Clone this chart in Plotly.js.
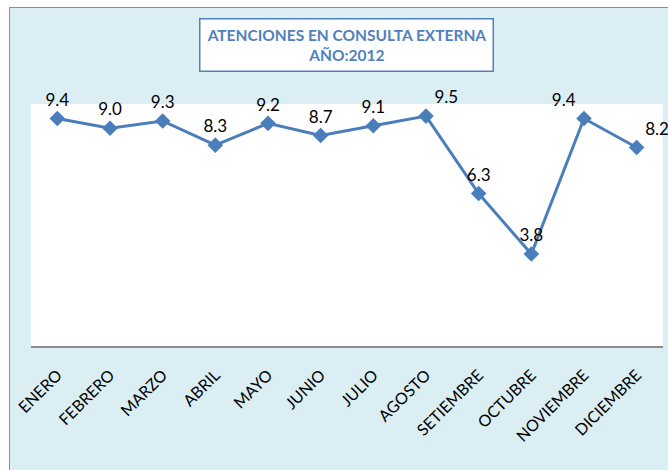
<!DOCTYPE html>
<html>
<head>
<meta charset="utf-8">
<script src="https://cdn.plot.ly/plotly-3.0.1.min.js"></script>
<style>
  html, body { margin: 0; padding: 0; background: #ffffff; width: 668px; height: 470px; overflow: hidden; }
  #frame { position: absolute; left: 9px; top: 7px; width: 659px; height: 463px;
           border-left: 1px solid #8c8c8c; border-top: 1px solid #8c8c8c; }
  #chart { width: 659px; height: 463px; }
</style>
</head>
<body>
<div id="frame"><div id="chart"></div></div>
<script>
const months = ["ENERO","FEBRERO","MARZO","ABRIL","MAYO","JUNIO","JULIO","AGOSTO","SETIEMBRE","OCTUBRE","NOVIEMBRE","DICIEMBRE"];
const values = [9.4, 9.0, 9.3, 8.3, 9.2, 8.7, 9.1, 9.5, 6.3, 3.8, 9.4, 8.2];
const titleLines = ["ATENCIONES EN CONSULTA EXTERNA", "AÑO:2012"];
// label placement (style only)
const labelPositions = ["top center","top center","top center","top center","top center","top center",
                        "top center","top right","top center","top center","top left","top right"];

const trace = {
  type: "scatter",
  mode: "lines+markers+text",
  x: months,
  y: values,
  text: values.map(v => v.toFixed(1)),
  textposition: labelPositions,
  textfont: { family: "Lato, 'Open Sans', sans-serif", size: 17, color: "#000000" },
  line: { color: "#4a7ebb", width: 3 },
  marker: { symbol: "diamond", size: 12, color: "#4a7ebb" },
  cliponaxis: false,
  hoverinfo: "x+y"
};

const layout = {
  width: 659,
  height: 463,
  paper_bgcolor: "#dbeef4",
  plot_bgcolor: "#ffffff",
  margin: { l: 21, r: 6, t: 96, b: 125 },
  showlegend: false,
  font: { family: "Lato, 'Open Sans', sans-serif", color: "#000000" },
  xaxis: {
    type: "category",
    range: [-0.5, 11.5],
    tickangle: -45,
    tickfont: { size: 16, color: "#000000" },
    ticklabelstandoff: 12,
    showgrid: false,
    zeroline: false,
    showline: true,
    linecolor: "#8c8c8c",
    linewidth: 1.5,
    ticks: "",
    fixedrange: true
  },
  yaxis: {
    range: [0, 10],
    visible: false,
    showgrid: false,
    zeroline: false,
    fixedrange: true
  },
  annotations: [{
    xref: "paper", yref: "paper",
    x: 0.499, y: 1.2427,
    xanchor: "center", yanchor: "middle",
    showarrow: false,
    text: "<b>" + titleLines.join("<br>") + "</b>",
    font: { family: "Lato, 'Open Sans', sans-serif", size: 15.5, color: "#4f81bd" },
    align: "center",
    bgcolor: "#ffffff",
    bordercolor: "#4f81bd",
    borderwidth: 1.5,
    borderpad: 2,
    width: 288,
    height: 47
  }]
};

Plotly.newPlot("chart", [trace], layout, { displayModeBar: false, staticPlot: true });
</script>
</body>
</html>
